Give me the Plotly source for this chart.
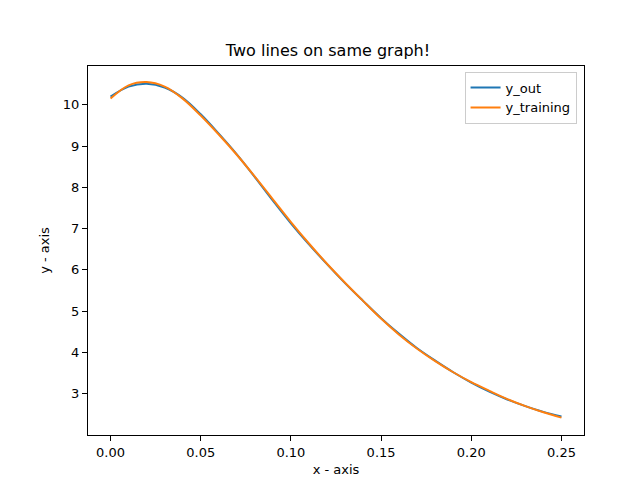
import plotly.graph_objects as go

x = [0.0, 0.01, 0.02, 0.03, 0.04, 0.05, 0.06, 0.07, 0.08, 0.09, 0.10, 0.11, 0.12, 0.13,
     0.14, 0.15, 0.16, 0.17, 0.18, 0.19, 0.20, 0.21, 0.22, 0.23, 0.24, 0.25]
y_out = [10.20, 10.44, 10.51, 10.42, 10.17, 9.77, 9.30, 8.80, 8.25, 7.68, 7.13, 6.62, 6.14,
         5.68, 5.25, 4.83, 4.45, 4.10, 3.80, 3.52, 3.27, 3.05, 2.86, 2.70, 2.56, 2.45]
y_training = [10.15, 10.47, 10.55, 10.44, 10.15, 9.74, 9.28, 8.79, 8.26, 7.71, 7.16, 6.64, 6.15,
              5.69, 5.25, 4.82, 4.43, 4.09, 3.79, 3.52, 3.28, 3.07, 2.87, 2.70, 2.55, 2.42]

fig = go.Figure()
fig.add_trace(go.Scatter(x=x, y=y_out, mode='lines', name='y_out',
                         line=dict(color='#1f77b4', width=2, shape='spline')))
fig.add_trace(go.Scatter(x=x, y=y_training, mode='lines', name='y_training',
                         line=dict(color='#ff7f0e', width=2, shape='spline')))

axis_style = dict(showline=True, linecolor='black', linewidth=1, mirror=True,
                  ticks='outside', ticklen=5, tickcolor='black', showgrid=False,
                  zeroline=False, tickfont=dict(size=13, color='black'),
                  automargin=False)

fig.update_layout(
    width=640, height=480,
    margin=dict(l=80, r=64, t=58, b=53, autoexpand=False),
    paper_bgcolor='white', plot_bgcolor='white',
    font=dict(family='DejaVu Sans', color='black'),
    title=dict(text='Two lines on same graph!', x=0.5, xanchor='center',
               y=1 - 42 / 480, yanchor='middle', font=dict(size=16)),
    xaxis=dict(axis_style, range=[-0.0125, 0.2625], tickvals=[0, 0.05, 0.1, 0.15, 0.2, 0.25],
               ticktext=['0.00', '0.05', '0.10', '0.15', '0.20', '0.25'],
               title=dict(text='x - axis', font=dict(size=13), standoff=6)),
    yaxis=dict(axis_style, range=[2.0, 10.94], tickvals=[3, 4, 5, 6, 7, 8, 9, 10],
               title=dict(text='y - axis', font=dict(size=13), standoff=10)),
    legend=dict(x=0.985, y=0.985, xanchor='right', yanchor='top',
                bgcolor='white', bordercolor='#cccccc', borderwidth=1,
                font=dict(size=13), tracegroupgap=0),
)

fig.write_html("out.html")
